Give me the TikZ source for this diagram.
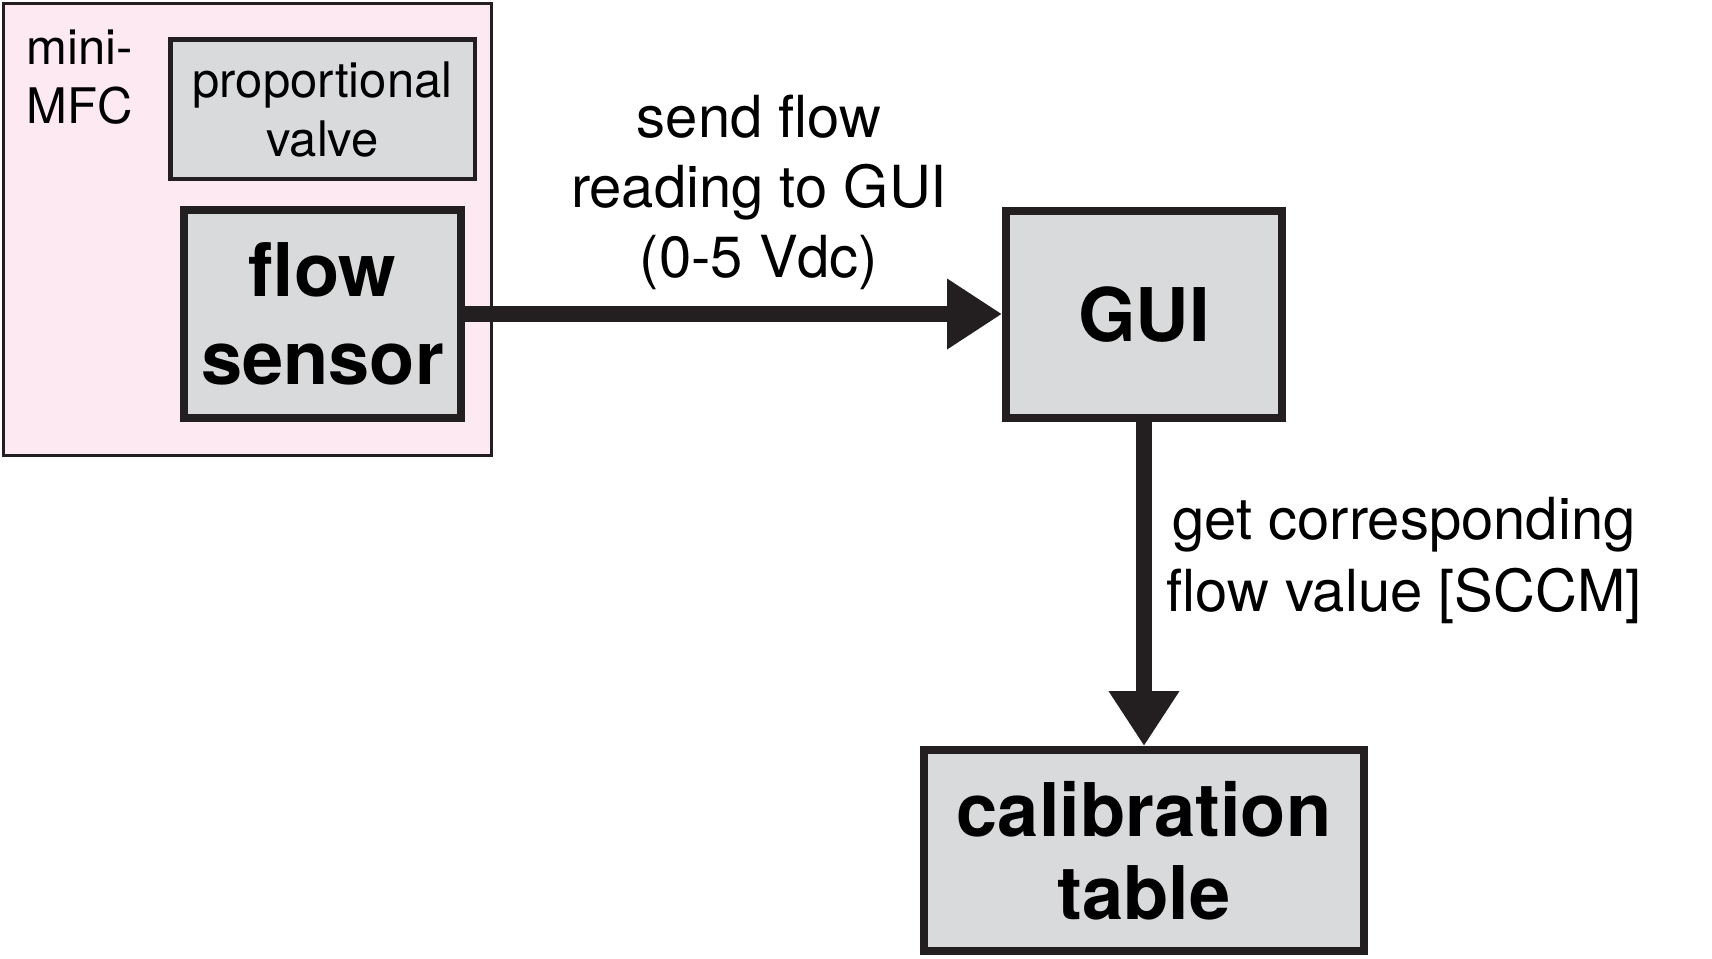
\documentclass[tikz,border=0pt]{standalone}
\usepackage{fontspec}
\setmainfont{TeX Gyre Heros}
\usetikzlibrary{arrows.meta}
\definecolor{ink}{HTML}{231F20}
\definecolor{boxgray}{HTML}{D9DADC}
\definecolor{mfcpink}{HTML}{FDE9F1}
\tikzset{
  heavybox/.style={draw=ink, line width=4pt, fill=boxgray, inner sep=0pt, align=center,
    font=\fontsize{37}{44}\selectfont\bfseries},
  thinbox/.style={draw=ink, line width=2.25pt, fill=boxgray, inner sep=0pt, align=center,
    font=\fontsize{24.5}{29.5}\selectfont},
  lbl/.style={inner sep=0pt, align=center, font=\fontsize{29}{36}\selectfont},
  flowarrow/.style={draw=ink, line width=8pt, -{Triangle[length=27.5pt,width=33.5pt]}}
}
\begin{document}
\begin{tikzpicture}[x=0.5pt,y=-0.5pt]
\useasboundingbox (0,0) rectangle (1712,958);
% mini-MFC enclosure
\node[draw=ink, line width=1.5pt, fill=mfcpink, minimum width=244pt, minimum height=226pt, inner sep=0pt] (mfc) at (247.5,229.5) {};
\node[inner sep=0pt, align=left, font=\fontsize{24.5}{29.5}\selectfont] (mfclabel) at (80,77) {mini-\\MFC};
\node[thinbox, minimum width=152.25pt, minimum height=69.75pt, text depth=-2.5pt] (valve) at (322.5,109) {proportional\\valve};
\node[heavybox, minimum width=138.5pt, minimum height=104pt] (sensor) at (322.5,314) {flow\\sensor};
\node[heavybox, minimum width=138pt, minimum height=103.5pt] (gui) at (1144,314.5) {GUI};
\node[heavybox, minimum width=220pt, minimum height=100.5pt, font=\fontsize{37}{41.5}\selectfont\bfseries] (cal) at (1144,850.5) {calibration\\table};
% connectors
\draw[flowarrow] (sensor.east) -- (sensor.east -| gui.west);
\draw[flowarrow] (gui.south) -- (cal.north);
% labels
\node[lbl, font=\fontsize{29}{35}\selectfont] (sendlbl) at (759,192) {send flow\\reading to GUI\\(0-5 Vdc)};
\node[lbl] (getlbl) at (1404,560) {get corresponding\\flow value [SCCM]};
\end{tikzpicture}
\end{document}
